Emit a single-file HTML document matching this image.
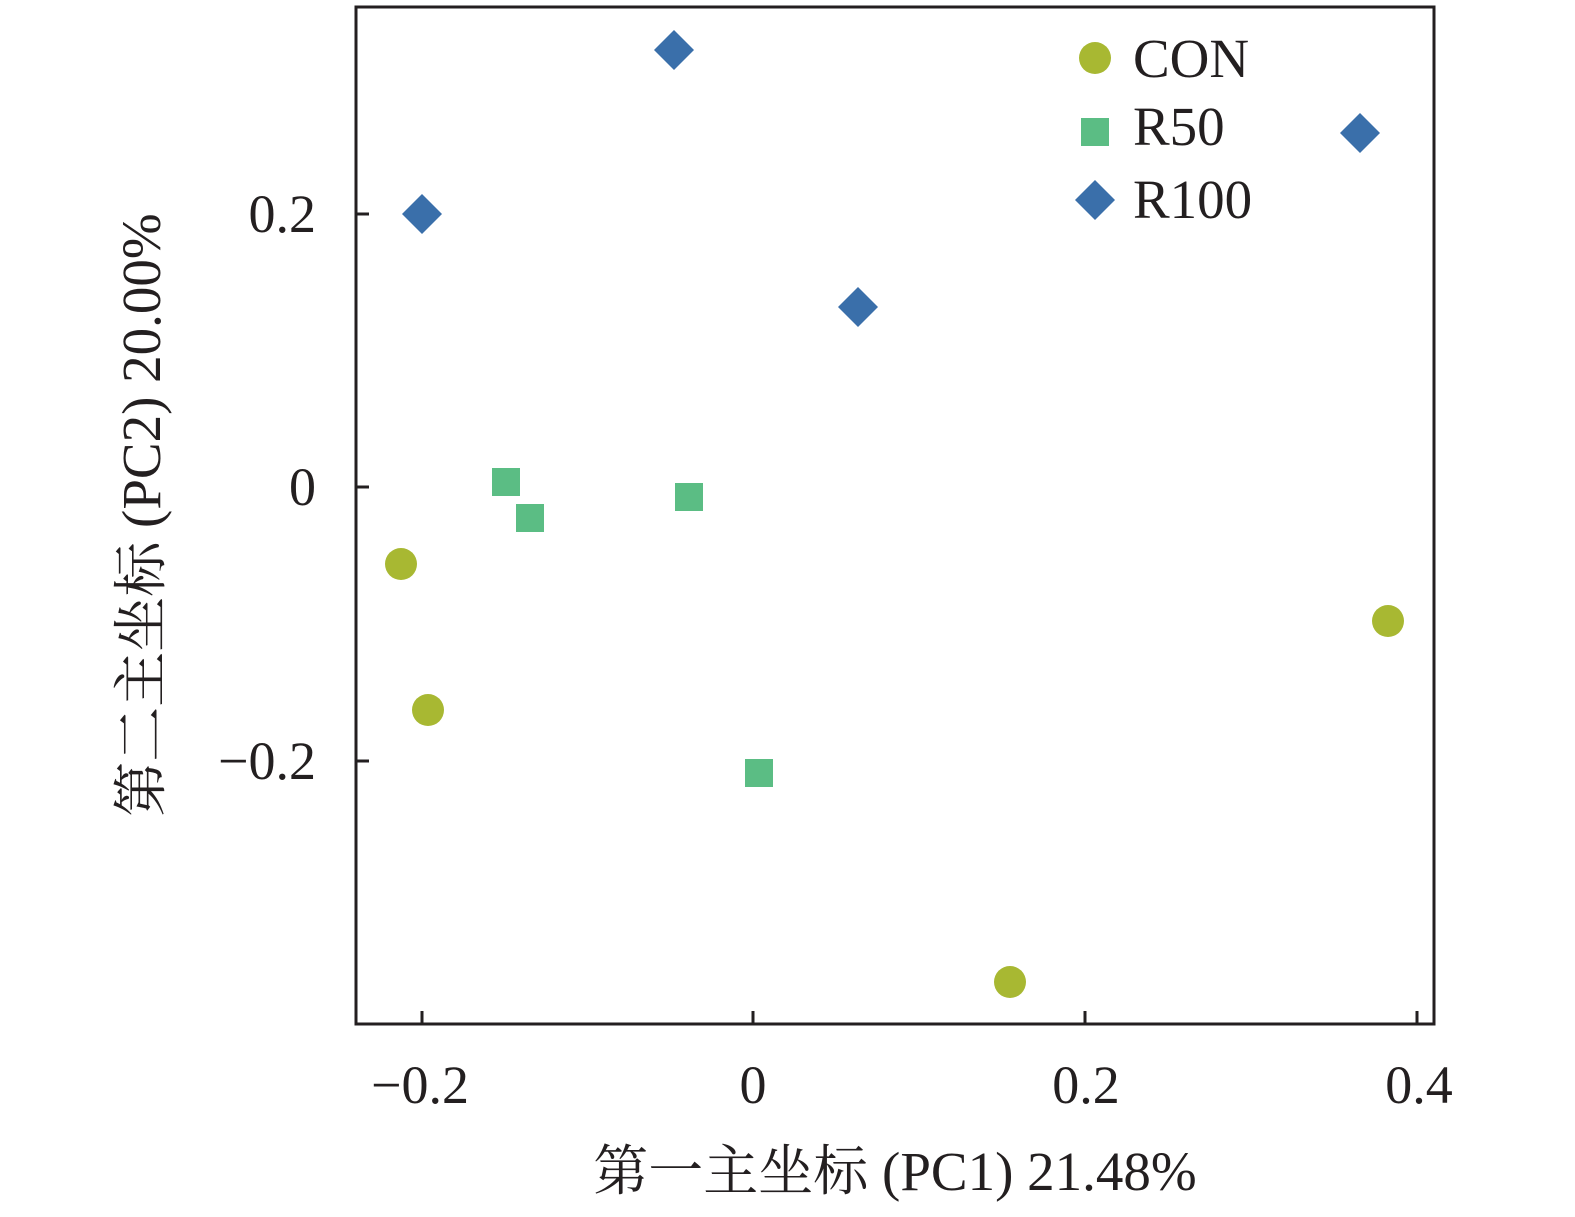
<!DOCTYPE html>
<html><head><meta charset="utf-8"><style>
body{margin:0;background:#fff;}
svg{display:block;}
text{font-family:"Liberation Serif","Noto Serif CJK SC",serif;fill:#231f20;}
</style></head><body>
<svg width="1575" height="1217" xmlns="http://www.w3.org/2000/svg">
<rect x="356" y="7" width="1078" height="1017" fill="none" stroke="#231f20" stroke-width="3"/>
<g stroke="#231f20" stroke-width="3">
<line x1="422" y1="1024" x2="422" y2="1011"/>
<line x1="753" y1="1024" x2="753" y2="1011"/>
<line x1="1085" y1="1024" x2="1085" y2="1011"/>
<line x1="1417" y1="1024" x2="1417" y2="1011"/>
<line x1="356" y1="214" x2="369" y2="214"/>
<line x1="356" y1="487" x2="369" y2="487"/>
<line x1="356" y1="761" x2="369" y2="761"/>
</g>
<g font-size="54" text-anchor="middle">
<text x="420" y="1103">−0.2</text>
<text x="753" y="1103">0</text>
<text x="1086" y="1103">0.2</text>
<text x="1419" y="1103">0.4</text>
</g>
<g font-size="54" text-anchor="end">
<text x="316" y="232">0.2</text>
<text x="316" y="505">0</text>
<text x="316" y="779">−0.2</text>
</g>
<text x="895" y="1190" font-size="55" text-anchor="middle">第一主坐标 (PC1) 21.48%</text>
<text transform="translate(160,515) rotate(-90)" font-size="55" text-anchor="middle">第二主坐标 (PC2) 20.00%</text>
<g fill="#a8b832">
<circle cx="401" cy="564" r="16"/><circle cx="428" cy="710" r="16"/>
<circle cx="1010" cy="982" r="16"/><circle cx="1388" cy="621" r="16"/>
<circle cx="1095" cy="58" r="16"/>
</g>
<g fill="#5bbd84">
<rect x="492" y="468" width="28" height="28"/><rect x="516" y="504" width="28" height="28"/>
<rect x="675" y="483" width="28" height="28"/><rect x="745" y="759" width="28" height="28"/>
<rect x="1081" y="118" width="28" height="28"/>
</g>
<g fill="#3a6faa">
<polygon points="674,30 694,50 674,70 654,50"/>
<polygon points="422,194 442,214 422,234 402,214"/>
<polygon points="858,287 878,307 858,327 838,307"/>
<polygon points="1360,113 1380,133 1360,153 1340,133"/>
<polygon points="1095,180 1115,200 1095,220 1075,200"/>
</g>
<g font-size="55">
<text x="1133" y="77">CON</text>
<text x="1133" y="145">R50</text>
<text x="1133" y="218">R100</text>
</g>
</svg>
</body></html>
